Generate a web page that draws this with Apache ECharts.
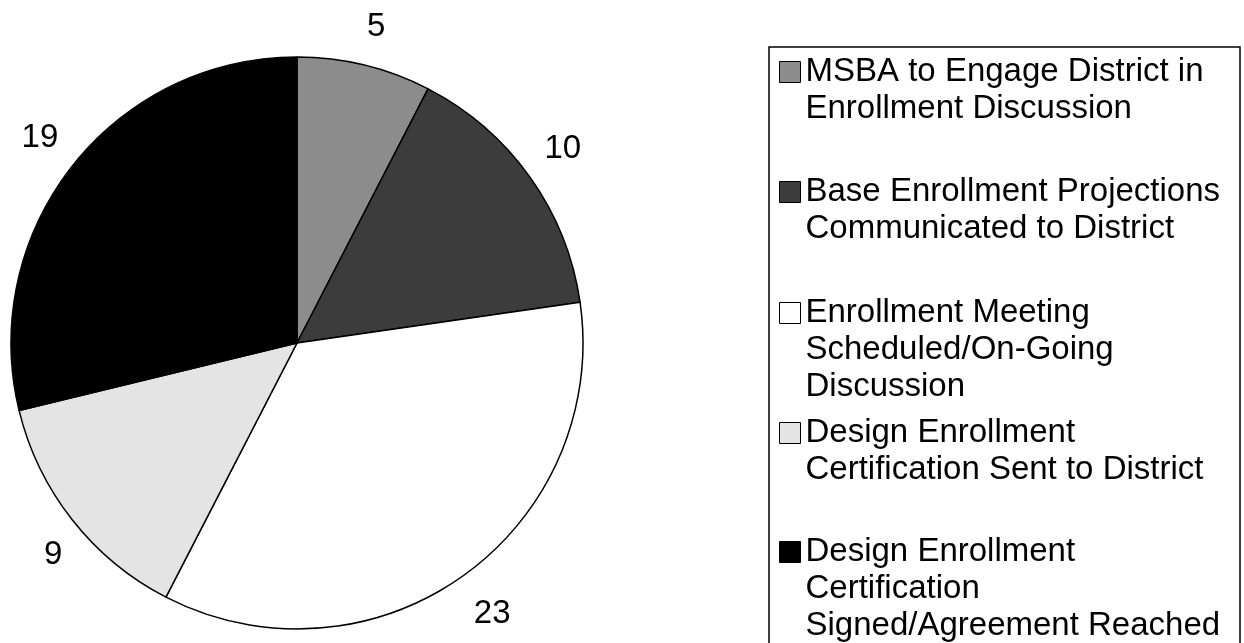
<!DOCTYPE html>
<html>
<head>
<meta charset="utf-8">
<script src="https://cdn.jsdelivr.net/npm/echarts@6/dist/echarts.min.js"></script>
<style>
html,body{margin:0;padding:0;background:#fff;}
#chart{width:1244px;height:643px;}
</style>
</head>
<body>
<div id="chart"></div>
<script>
// ---- data ----
var categories = [
  'MSBA to Engage District in Enrollment Discussion',
  'Base Enrollment Projections Communicated to District',
  'Enrollment Meeting Scheduled/On-Going Discussion',
  'Design Enrollment Certification Sent to District',
  'Design Enrollment Certification Signed/Agreement Reached'
];
var values = [5, 10, 23, 9, 19];
var legendLines = [
  ['MSBA to Engage District in', 'Enrollment Discussion'],
  ['Base Enrollment Projections', 'Communicated to District'],
  ['Enrollment Meeting', 'Scheduled/On-Going', 'Discussion'],
  ['Design Enrollment', 'Certification Sent to District'],
  ['Design Enrollment', 'Certification', 'Signed/Agreement Reached']
];
var colors = ['#8c8c8c', '#3c3c3c', '#ffffff', '#e4e4e4', '#000000'];

// ---- chart layout / style ----
var FONT = '"Liberation Sans", Arial, sans-serif';
var FS = 33, LH = 37;
var firstLineCenters = [72, 192, 313, 433, 552];
var labelNudges = [[-8, -15], [-10, -14], [-8, 18], [14, 20], [10, -13]];

var legends = categories.map(function (name, i) {
  var n = legendLines[i].length;
  var h = LH * (2 * n - 1);
  return {
    orient: 'vertical',
    left: 779,
    top: firstLineCenters[i] - h / 2,
    padding: 0,
    itemWidth: 21,
    itemHeight: 21,
    icon: 'rect',
    data: [name],
    formatter: function (nm) {
      var lines = legendLines[categories.indexOf(nm)];
      var out = [];
      for (var k = 1; k < lines.length; k++) out.push(' ');
      return out.concat(lines).join('\n');
    },
    textStyle: {
      fontFamily: FONT,
      fontSize: FS,
      lineHeight: LH,
      color: '#000'
    },
    itemStyle: { borderColor: '#000', borderWidth: 1 },
    selectedMode: false
  };
});

var chart = echarts.init(document.getElementById('chart'), null, { renderer: 'canvas' });
chart.setOption({
  animation: false,
  backgroundColor: '#fff',
  color: colors,
  legend: legends,
  graphic: [{
    type: 'rect',
    shape: { x: 769, y: 47, width: 471, height: 640 },
    style: { fill: 'none', stroke: '#000', lineWidth: 1.5 },
    silent: true
  }],
  series: [{
    type: 'pie',
    center: [297, 343],
    radius: 286,
    startAngle: 90,
    clockwise: true,
    avoidLabelOverlap: false,
    itemStyle: { borderColor: '#000', borderWidth: 1.5 },
    emphasis: { disabled: true },
    label: {
      show: true,
      position: 'outside',
      formatter: '{c}',
      fontFamily: FONT,
      fontSize: FS,
      color: '#000'
    },
    labelLine: { show: false, length: 24, length2: 0 },
    data: categories.map(function (c, i) {
      return { name: c, value: values[i], label: { offset: labelNudges[i] } };
    })
  }]
});
</script>
</body>
</html>
